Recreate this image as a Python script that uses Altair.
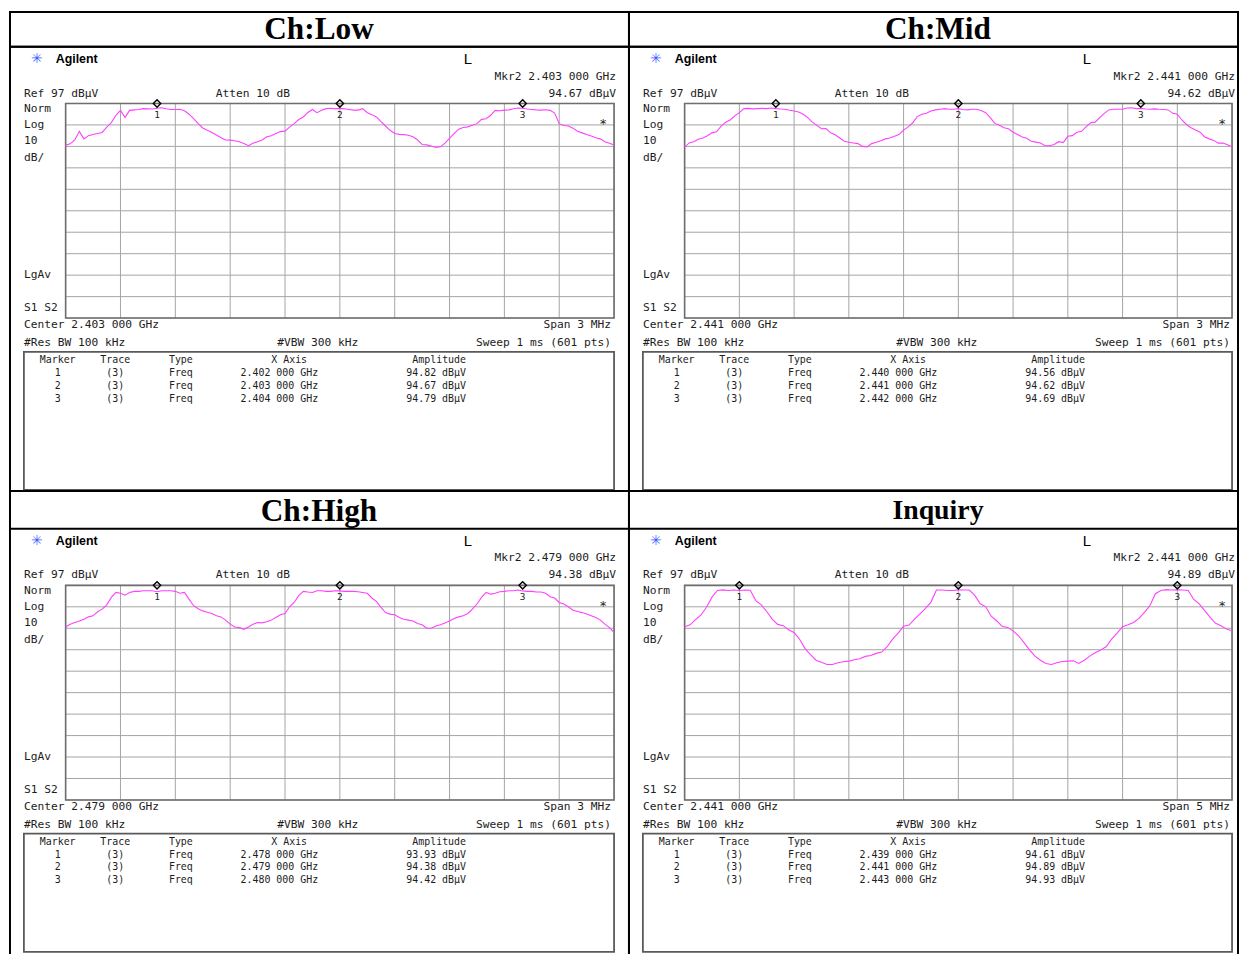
import altair as alt
import pandas as pd

# ------------------------------------------------------------------ data
# sweep frequencies, MHz offset from the centre frequency
FREQ_3MHZ = [-1.500, -1.475, -1.450, -1.425, -1.400, -1.375, -1.350, -1.325, -1.300, -1.275,
             -1.250, -1.225, -1.200, -1.175, -1.150, -1.125, -1.100, -1.075, -1.050, -1.025,
             -1.000, -0.975, -0.950, -0.925, -0.900, -0.875, -0.850, -0.825, -0.800, -0.775,
             -0.750, -0.725, -0.700, -0.675, -0.650, -0.625, -0.600, -0.575, -0.550, -0.525,
             -0.500, -0.475, -0.450, -0.425, -0.400, -0.375, -0.350, -0.325, -0.300, -0.275,
             -0.250, -0.225, -0.200, -0.175, -0.150, -0.125, -0.100, -0.075, -0.050, -0.025,
             0.000, 0.025, 0.050, 0.075, 0.100, 0.125, 0.150, 0.175, 0.200, 0.225,
             0.250, 0.275, 0.300, 0.325, 0.350, 0.375, 0.400, 0.425, 0.450, 0.475,
             0.500, 0.525, 0.550, 0.575, 0.600, 0.625, 0.650, 0.675, 0.700, 0.725,
             0.750, 0.775, 0.800, 0.825, 0.850, 0.875, 0.900, 0.925, 0.950, 0.975,
             1.000, 1.025, 1.050, 1.075, 1.100, 1.125, 1.150, 1.175, 1.200, 1.225,
             1.250, 1.275, 1.300, 1.325, 1.350, 1.375, 1.400, 1.425, 1.450, 1.475, 1.500]
FREQ_5MHZ = [-2.50, -2.45, -2.40, -2.35, -2.30, -2.25, -2.20, -2.15, -2.10, -2.05,
             -2.00, -1.95, -1.90, -1.85, -1.80, -1.75, -1.70, -1.65, -1.60, -1.55,
             -1.50, -1.45, -1.40, -1.35, -1.30, -1.25, -1.20, -1.15, -1.10, -1.05,
             -1.00, -0.95, -0.90, -0.85, -0.80, -0.75, -0.70, -0.65, -0.60, -0.55,
             -0.50, -0.45, -0.40, -0.35, -0.30, -0.25, -0.20, -0.15, -0.10, -0.05,
             0.00, 0.05, 0.10, 0.15, 0.20, 0.25, 0.30, 0.35, 0.40, 0.45,
             0.50, 0.55, 0.60, 0.65, 0.70, 0.75, 0.80, 0.85, 0.90, 0.95,
             1.00, 1.05, 1.10, 1.15, 1.20, 1.25, 1.30, 1.35, 1.40, 1.45,
             1.50, 1.55, 1.60, 1.65, 1.70, 1.75, 1.80, 1.85, 1.90, 1.95,
             2.00, 2.05, 2.10, 2.15, 2.20, 2.25, 2.30, 2.35, 2.40, 2.45, 2.50]

# trace amplitudes, dBuV
LOW_DB = [77.6, 78.2, 80.0, 84.0, 80.5, 82.0, 82.5, 83.0, 83.5, 86.0,
          88.1, 91.5, 93.8, 90.5, 93.8, 94.0, 94.2, 94.6, 94.5, 94.4,
          94.8, 95.0, 94.5, 94.2, 94.2, 94.3, 93.6, 92.0, 89.9, 87.6,
          85.6, 84.5, 83.5, 82.3, 81.0, 80.0, 79.9, 79.6, 79.2, 78.3,
          77.3, 78.5, 79.2, 80.0, 81.5, 82.0, 83.0, 83.9, 84.1, 86.0,
          87.6, 89.5, 90.7, 92.8, 94.2, 92.7, 93.8, 94.6, 94.8, 94.5,
          94.7, 94.5, 94.2, 93.9, 93.9, 94.6, 92.7, 91.8, 90.7, 88.5,
          86.5, 84.5, 83.0, 82.6, 82.5, 82.2, 81.5, 80.0, 77.9, 77.7,
          77.2, 76.5, 76.8, 78.5, 80.7, 83.0, 85.0, 85.8, 86.1, 86.8,
          87.6, 89.6, 89.9, 91.5, 93.8, 93.6, 93.9, 94.0, 94.5, 94.9,
          94.8, 94.4, 94.2, 94.0, 93.9, 94.1, 93.8, 92.5, 87.6, 86.7,
          86.5, 85.5, 84.1, 83.3, 82.5, 81.8, 81.0, 80.5, 79.2, 78.5, 77.6]
MID_DB = [76.7, 78.6, 79.2, 80.3, 80.9, 82.0, 83.3, 83.8, 86.4, 88.3,
          89.3, 91.2, 92.7, 94.6, 94.7, 94.5, 94.6, 94.7, 94.6, 94.9,
          94.6, 94.4, 94.3, 93.8, 93.5, 93.0, 92.0, 90.4, 88.3, 86.8,
          85.2, 85.3, 83.3, 82.4, 80.9, 79.4, 78.9, 78.6, 78.3, 77.0,
          76.7, 78.3, 78.9, 79.6, 80.5, 80.9, 81.7, 82.5, 84.6, 86.1,
          88.0, 90.9, 92.0, 92.4, 93.5, 94.0, 94.3, 94.6, 94.3, 94.3,
          94.6, 94.2, 94.0, 94.3, 94.3, 93.7, 92.7, 90.4, 87.7, 86.8,
          85.7, 85.2, 83.6, 82.5, 81.4, 80.8, 79.4, 79.0, 78.6, 77.3,
          77.3, 77.9, 79.2, 78.8, 81.7, 82.0, 83.6, 84.0, 86.1, 88.0,
          88.3, 90.4, 92.4, 94.0, 94.3, 94.3, 94.3, 94.9, 95.0, 94.6,
          94.7, 94.4, 94.3, 94.5, 94.3, 94.2, 94.0, 92.4, 92.0, 89.3,
          87.2, 85.7, 84.6, 83.6, 81.4, 80.5, 79.8, 78.5, 78.6, 77.8, 76.7]
HIGH_DB = [77.6, 78.9, 79.7, 80.4, 81.2, 82.3, 82.8, 84.7, 85.9, 87.9,
           91.4, 93.7, 93.3, 92.4, 93.7, 94.2, 94.2, 94.5, 94.5, 94.5,
           94.0, 94.5, 94.5, 94.5, 94.2, 93.3, 93.7, 90.6, 87.5, 86.1,
           85.1, 84.5, 83.9, 82.8, 82.3, 80.8, 78.9, 77.6, 77.3, 76.5,
           77.6, 78.9, 79.7, 79.5, 80.0, 80.8, 82.0, 83.3, 83.9, 87.0,
           89.0, 92.2, 94.2, 93.9, 93.7, 94.5, 94.5, 94.2, 94.2, 94.5,
           94.4, 94.2, 94.2, 94.2, 94.0, 93.7, 93.3, 91.1, 89.5, 86.7,
           84.3, 83.6, 83.3, 82.0, 81.2, 80.8, 80.4, 79.2, 78.6, 77.0,
           77.0, 78.1, 78.6, 79.5, 80.4, 81.5, 82.3, 82.8, 83.9, 85.9,
           88.3, 91.4, 93.7, 92.9, 93.3, 94.0, 94.2, 94.5, 94.5, 94.8,
           94.4, 94.2, 94.2, 93.9, 93.9, 93.3, 91.7, 91.1, 89.0, 88.3,
           87.0, 85.4, 84.8, 84.3, 83.6, 82.8, 82.0, 80.8, 78.9, 77.3, 75.0]
INQ_DB = [77.7, 78.6, 81.0, 83.2, 86.8, 91.5, 94.6, 94.9, 94.6, 94.8,
          94.6, 94.8, 94.7, 89.9, 87.9, 84.8, 81.3, 78.8, 78.2, 76.3,
          75.0, 71.9, 67.5, 64.7, 62.1, 61.2, 60.1, 60.1, 60.9, 61.4,
          61.7, 62.3, 62.8, 63.9, 64.3, 65.3, 65.9, 68.4, 71.9, 74.7,
          77.9, 78.5, 81.3, 83.7, 86.3, 89.2, 94.8, 94.8, 94.6, 94.6,
          94.9, 94.8, 94.8, 92.3, 88.4, 87.1, 82.6, 80.5, 77.9, 77.4,
          75.8, 73.5, 70.3, 66.9, 64.0, 62.1, 60.6, 60.1, 60.9, 61.5,
          61.7, 61.8, 60.6, 62.1, 64.0, 65.6, 66.9, 68.4, 71.9, 74.7,
          77.7, 78.6, 79.7, 81.6, 84.4, 87.6, 93.1, 94.6, 95.0, 94.8,
          94.9, 94.8, 94.6, 90.4, 88.4, 85.2, 82.1, 79.3, 78.2, 76.6, 75.8]

TITLES = ["Ch:Low", "Ch:Mid", "Ch:High", "Inquiry"]
CENTERS = ["2.403 000 GHz", "2.441 000 GHz", "2.479 000 GHz", "2.441 000 GHz"]
SPANS = ["3 MHz", "3 MHz", "3 MHz", "5 MHz"]
HALF_SPANS = [1.5, 1.5, 1.5, 2.5]
MKR_OFFSETS = [[-1, 0, 1], [-1, 0, 1], [-1, 0, 1], [-2, 0, 2]]
MKR_FREQS = [["2.402 000 GHz", "2.403 000 GHz", "2.404 000 GHz"],
             ["2.440 000 GHz", "2.441 000 GHz", "2.442 000 GHz"],
             ["2.478 000 GHz", "2.479 000 GHz", "2.480 000 GHz"],
             ["2.439 000 GHz", "2.441 000 GHz", "2.443 000 GHz"]]
MKR_AMPS = [[94.82, 94.67, 94.79],
            [94.56, 94.62, 94.69],
            [93.93, 94.38, 94.42],
            [94.61, 94.89, 94.93]]
REF_LEVEL = 97
DB_PER_DIV = 10

TRACE_FREQS = [FREQ_3MHZ, FREQ_3MHZ, FREQ_3MHZ, FREQ_5MHZ]
TRACE_DB = [LOW_DB, MID_DB, HIGH_DB, INQ_DB]

# ------------------------------------------------------------------ style / layout
MONO = "DejaVu Sans Mono"
TXT = "#1c1c1c"
GRID = "#a4a4a4"
BORDER = "#6e6e6e"
TRACE = "#ff40ff"

LEFT_W, RIGHT_W = 623, 613
TITLE1_H, TITLE2_H = 35, 38
PANEL1_H, PANEL2_H = 447, 428
GX0, GY0, GY1 = 56, 57, 273

ONE = pd.DataFrame({"k": [0]})


def text_layer(rows, align, size, font=MONO, weight="normal", color=TXT):
    df = pd.DataFrame(rows, columns=["label", "px", "py"])
    return alt.Chart(df).mark_text(
        align=align, baseline="middle", font=font, fontSize=size,
        fontWeight=weight, color=color
    ).encode(
        x=alt.X("px:Q", scale=None, axis=None),
        y=alt.Y("py:Q", scale=None, axis=None),
        text="label:N",
    )


def panel(i, w, h, gx1, bottom):
    half = HALF_SPANS[i]
    xs = alt.Scale(domain=[-half, half], range=[GX0, gx1])
    ys = alt.Scale(domain=[REF_LEVEL - 10 * DB_PER_DIV, REF_LEVEL], range=[GY1, GY0])
    X = alt.X("f:Q", scale=xs, axis=None)

    grid_f = pd.DataFrame({"f": [-half + k * half / 5 for k in range(11)]})
    grid_db = pd.DataFrame({"db": [REF_LEVEL - k * DB_PER_DIV for k in range(11)]})

    layers = []
    layers.append(alt.Chart(grid_f).mark_rule(color=GRID, strokeWidth=1).encode(
        x=X, y=alt.value(GY0), y2=alt.value(GY1)))
    layers.append(alt.Chart(grid_db).mark_rule(color=GRID, strokeWidth=1).encode(
        y=alt.Y("db:Q", scale=ys, axis=None), x=alt.value(GX0), x2=alt.value(gx1)))
    layers.append(alt.Chart(ONE).mark_rect(fillOpacity=0, stroke=BORDER, strokeWidth=1.6).encode(
        x=alt.value(GX0), x2=alt.value(gx1), y=alt.value(GY0), y2=alt.value(GY1)))

    trace = pd.DataFrame({"f": TRACE_FREQS[i], "db": TRACE_DB[i]})
    layers.append(alt.Chart(trace).mark_line(color=TRACE, strokeWidth=1.1).encode(
        x=X, y=alt.Y("db:Q", scale=ys, axis=None)))

    mk = pd.DataFrame({"f": MKR_OFFSETS[i], "n": ["1", "2", "3"]})
    layers.append(alt.Chart(mk).mark_point(shape="diamond", filled=False, color="black",
                                           size=55, strokeWidth=1.4, opacity=1).encode(
        x=X, y=alt.value(GY0)))
    layers.append(alt.Chart(mk).mark_text(font=MONO, fontSize=9.5, color=TXT).encode(
        x=X, y=alt.value(69), text="n:N"))

    # header
    layers.append(text_layer([("\u2733", 27, 12)], "center", 14, font="DejaVu Sans", color="#3a5cff"))
    layers.append(text_layer([("Agilent", 46, 12)], "left", 12.5, font="Liberation Sans", weight="bold", color="black"))
    layers.append(text_layer([("L", 461, 12)], "center", 15, font="Liberation Sans", color="black"))
    layers.append(text_layer([("*", 597, 78)], "center", 13))

    left_rows = [("Ref 97 dB\u00b5V", 14, 47), ("Atten 10 dB", 207, 47),
                 ("Norm", 14, 63), ("Log", 14, 79), ("10", 14, 95), ("dB/", 14, 112),
                 ("LgAv", 14, 230), ("S1  S2", 14, 263),
                 ("Center " + CENTERS[i], 14, 280),
                 ("#Res BW 100 kHz", 14, 298), ("#VBW 300 kHz", 269, 298)]
    right_rows = [("Mkr2  " + MKR_FREQS[i][1], 610, 30),
                  (f"{MKR_AMPS[i][1]:.2f} dB\u00b5V", 610, 47),
                  ("Span " + SPANS[i], 605, 280),
                  ("Sweep 1 ms (601 pts)", 605, 298)]
    layers.append(text_layer(left_rows, "left", 11.3))
    layers.append(text_layer(right_rows, "right", 11.3))

    # marker table
    box_bottom = h - 2 if bottom else 446
    layers.append(alt.Chart(ONE).mark_rect(fillOpacity=0, stroke="#5a5a5a", strokeWidth=1.8).encode(
        x=alt.value(14), x2=alt.value(gx1), y=alt.value(307), y2=alt.value(box_bottom)))
    layers.append(text_layer([("Marker", 48, 315), ("Trace", 106, 315), ("Type", 172, 315),
                              ("X Axis", 281, 315)], "center", 10))
    layers.append(text_layer([("Amplitude", 459, 315)], "right", 10))

    tbl = pd.DataFrame({
        "m": [1, 2, 3],
        "trace": ["(3)", "(3)", "(3)"],
        "type": ["Freq", "Freq", "Freq"],
        "xa": MKR_FREQS[i],
        "amp": [f"{a:.2f} dB\u00b5V" for a in MKR_AMPS[i]],
    })
    Y_ROW = alt.Y("m:Q", scale=alt.Scale(domain=[1, 3], range=[328, 354]), axis=None)
    for field, align, px in [("m", "center", 48), ("trace", "center", 106), ("type", "center", 172),
                             ("xa", "left", 232), ("amp", "right", 459)]:
        layers.append(alt.Chart(tbl).mark_text(align=align, baseline="middle", font=MONO,
                                               fontSize=10, color=TXT).encode(
            x=alt.value(px), y=Y_ROW, text=f"{field}:N"))

    props = dict(width=w, height=h)
    if bottom:
        for xv in (0, w):
            layers.append(alt.Chart(ONE).mark_rule(color="black", strokeWidth=2).encode(
                x=alt.value(xv), y=alt.value(0), y2=alt.value(h)))
        props["view"] = alt.ViewBackground(stroke="transparent")

    return alt.layer(*layers).resolve_scale(x="independent", y="independent").properties(**props)


def title_cell(text, w, h, size, ty):
    return alt.Chart(pd.DataFrame({"t": [text]})).mark_text(
        font="Liberation Serif", fontWeight="bold", fontSize=size, color="black",
        align="center", baseline="middle"
    ).encode(text="t:N", x=alt.value(311), y=alt.value(ty)).properties(width=w, height=h)


cells = [
    title_cell(TITLES[0], LEFT_W, TITLE1_H, 31.5, 18),
    title_cell(TITLES[1], RIGHT_W, TITLE1_H, 31.5, 18),
    panel(0, LEFT_W, PANEL1_H, 608, False),
    panel(1, RIGHT_W, PANEL1_H, 607, False),
    title_cell(TITLES[2], LEFT_W, TITLE2_H, 31.5, 21),
    title_cell(TITLES[3], RIGHT_W, TITLE2_H, 28, 20),
    panel(2, LEFT_W, PANEL2_H, 608, True),
    panel(3, RIGHT_W, PANEL2_H, 607, True),
]

chart = alt.concat(*cells, columns=2, spacing=0, bounds="flush").properties(
    padding={"left": 0, "top": 0, "right": 0, "bottom": 0}
).configure(background="white").configure_view(stroke="black", strokeWidth=2)

chart.save("out.html", embed_options={"renderer": "svg", "actions": False})
